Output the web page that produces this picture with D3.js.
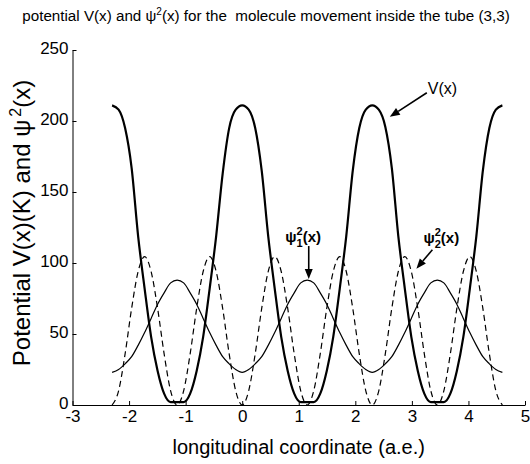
<!DOCTYPE html>
<html>
<head>
<meta charset="utf-8">
<script src="https://cdn.jsdelivr.net/npm/d3@7"></script>
<style>
body { margin: 0; background: #fff; }
text { font-family: "Liberation Sans", Arial, Helvetica, sans-serif; fill: #000; }
</style>
</head>
<body>
<div id="chart"></div>
<script>
// longitudinal coordinate, sampled along the tube
const xs = [
  -2.3, -2.185, -2.07, -1.955, -1.84, -1.725, -1.61, -1.495, -1.38, -1.265,
  -1.15, -1.035, -0.92, -0.805, -0.69, -0.575, -0.46, -0.345, -0.23, -0.115,
  0, 0.115, 0.23, 0.345, 0.46, 0.575, 0.69, 0.805, 0.92, 1.035,
  1.15, 1.265, 1.38, 1.495, 1.61, 1.725, 1.84, 1.955, 2.07, 2.185,
  2.3, 2.415, 2.53, 2.645, 2.76, 2.875, 2.99, 3.105, 3.22, 3.335,
  3.45, 3.565, 3.68, 3.795, 3.91, 4.025, 4.14, 4.255, 4.37, 4.485,
  4.6
];
// V(x), K
const potential = [
  211, 208, 195, 167, 119, 82, 48, 24, 8, 2, 2, 2, 8, 24, 48, 82, 119, 163, 195, 208,
  211, 208, 195, 165, 119, 82, 48, 24, 8, 2, 2, 2, 8, 24, 48, 82, 119, 165, 195, 208,
  211, 208, 196, 167, 119, 82, 48, 24, 8, 2, 2, 2, 8, 24, 48, 82, 119, 165, 195, 208,
  211
];
// psi_1^2(x)
const psi1 = [
  23, 25, 29, 34, 42, 51, 61, 71, 79, 86, 88, 86, 79, 71, 61, 51, 42, 34, 29, 25,
  23, 25, 29, 34, 42, 51, 61, 71, 79, 86, 88, 86, 79, 71, 61, 51, 42, 34, 29, 25,
  23, 25, 29, 34, 42, 51, 61, 71, 79, 86, 88, 86, 79, 71, 61, 51, 42, 34, 29, 25,
  23
];
// psi_2^2(x)
const psi2 = [
  0, 10, 36, 68, 94, 104.5, 94, 68, 36, 10, 0, 10, 36, 68, 94, 104.5, 94, 68, 36, 10,
  0, 10, 36, 68, 94, 104.5, 94, 68, 36, 10, 0, 10, 36, 68, 94, 104.5, 94, 68, 36, 10,
  0, 10, 36, 68, 94, 104.5, 94, 68, 36, 10, 0, 10, 36, 68, 94, 104.5, 94, 68, 36, 10,
  0
];
const xTicks = [-3, -2, -1, 0, 1, 2, 3, 4, 5];
const yTicks = [0, 50, 100, 150, 200, 250];

const width = 530, height = 464;
const margin = {top: 50, right: 5, bottom: 59, left: 72.5};

const svg = d3.select("#chart").append("svg")
    .attr("width", width)
    .attr("height", height);

const x = d3.scaleLinear().domain([-3, 5]).range([margin.left, width - margin.right]);
const y = d3.scaleLinear().domain([0, 250]).range([height - margin.bottom, margin.top]);

// axes, MATLAB style: ticks pointing inward, no box
svg.append("g")
    .attr("transform", "translate(0," + y(0) + ")")
    .call(d3.axisBottom(x).tickValues(xTicks).tickFormat(d => String(d))
        .tickSizeInner(-4).tickSizeOuter(0).tickPadding(5));
const yAxis = svg.append("g")
    .attr("transform", "translate(" + x(-3) + ",0)")
    .call(d3.axisLeft(y).tickValues(yTicks).tickFormat(d => String(d))
        .tickSizeInner(-4).tickSizeOuter(0).tickPadding(4));
yAxis.selectAll(".tick text").attr("dy", "0.2em");

svg.selectAll(".domain, .tick line").attr("stroke", "#000").attr("stroke-width", 1);
svg.selectAll(".tick text").attr("font-size", 17).attr("font-family", "Liberation Sans, Arial, sans-serif");

// curves
const pts = arr => xs.map((v, i) => [v, arr[i]]);
const line = d3.line().x(d => x(d[0])).y(d => y(d[1])).curve(d3.curveMonotoneX);

svg.append("path").datum(pts(psi2))
    .attr("d", line).attr("fill", "none")
    .attr("stroke", "#000").attr("stroke-width", 1.2).attr("stroke-dasharray", "6,4");
svg.append("path").datum(pts(psi1))
    .attr("d", line).attr("fill", "none")
    .attr("stroke", "#000").attr("stroke-width", 1.2);
svg.append("path").datum(pts(potential))
    .attr("d", line).attr("fill", "none")
    .attr("stroke", "#000").attr("stroke-width", 2.2).attr("stroke-linejoin", "round");

// titles
const title = svg.append("text")
    .attr("x", 266).attr("y", 21)
    .attr("text-anchor", "middle").attr("font-size", 15.2)
    .style("white-space", "pre");
title.append("tspan").text("potential V(x) and \u03C8");
title.append("tspan").attr("font-size", 10).attr("dy", -6).text("2");
title.append("tspan").attr("dy", 6).text("(x) for the  molecule movement inside the tube (3,3)");

svg.append("text")
    .attr("x", (x(-3) + x(5)) / 2).attr("y", 454)
    .attr("text-anchor", "middle").attr("font-size", 20)
    .text("longitudinal coordinate (a.e.)");

const yl = svg.append("text")
    .attr("transform", "translate(30," + 223 + ") rotate(-90)")
    .attr("text-anchor", "middle").attr("font-size", 24);
yl.append("tspan").text("Potential V(x)(K) and \u03C8");
yl.append("tspan").attr("font-size", 16).attr("dx", 3).attr("dy", -9).text("2");
yl.append("tspan").attr("dy", 9).text("(x)");

// annotations
function arrow(x1, y1, x2, y2) {
  const a = Math.atan2(y2 - y1, x2 - x1), len = 10, w = 4;
  const bx = x2 - len * Math.cos(a), by = y2 - len * Math.sin(a);
  svg.append("line").attr("x1", x1).attr("y1", y1).attr("x2", bx).attr("y2", by)
      .attr("stroke", "#000").attr("stroke-width", 1.6);
  svg.append("path")
      .attr("d", "M" + x2 + "," + y2 +
        "L" + (bx + w * Math.sin(a)) + "," + (by - w * Math.cos(a)) +
        "L" + (bx - w * Math.sin(a)) + "," + (by + w * Math.cos(a)) + "Z")
      .attr("fill", "#000");
}

function psiLabel(px, py, sub) {
  const t = svg.append("text").attr("x", px).attr("y", py)
      .attr("font-size", 15).attr("font-weight", "bold");
  t.append("tspan").text("\u03C8");
  t.append("tspan").attr("font-size", 11).attr("dy", -7).text("2");
  t.append("tspan").attr("font-size", 11).attr("dx", -6.1).attr("dy", 12).text(sub);
  t.append("tspan").attr("dy", -5).text("(x)");
}

// V(x)
arrow(x(2.61) + 37, y(203) - 24, x(2.61), y(203));
svg.append("text").attr("x", x(2.61) + 38).attr("y", y(203) - 23)
    .attr("font-size", 16).text("V(x)");

// psi_1^2
arrow(x(1.15) + 1.5, y(88) - 34, x(1.15) + 1.5, y(88) - 1);
psiLabel(x(1.15) - 22, y(88) - 38, "1");

// psi_2^2
arrow(x(3.08) + 16, y(96) - 19, x(3.08), y(96));
psiLabel(x(3.08) + 7, y(96) - 26, "2");
</script>
</body>
</html>
